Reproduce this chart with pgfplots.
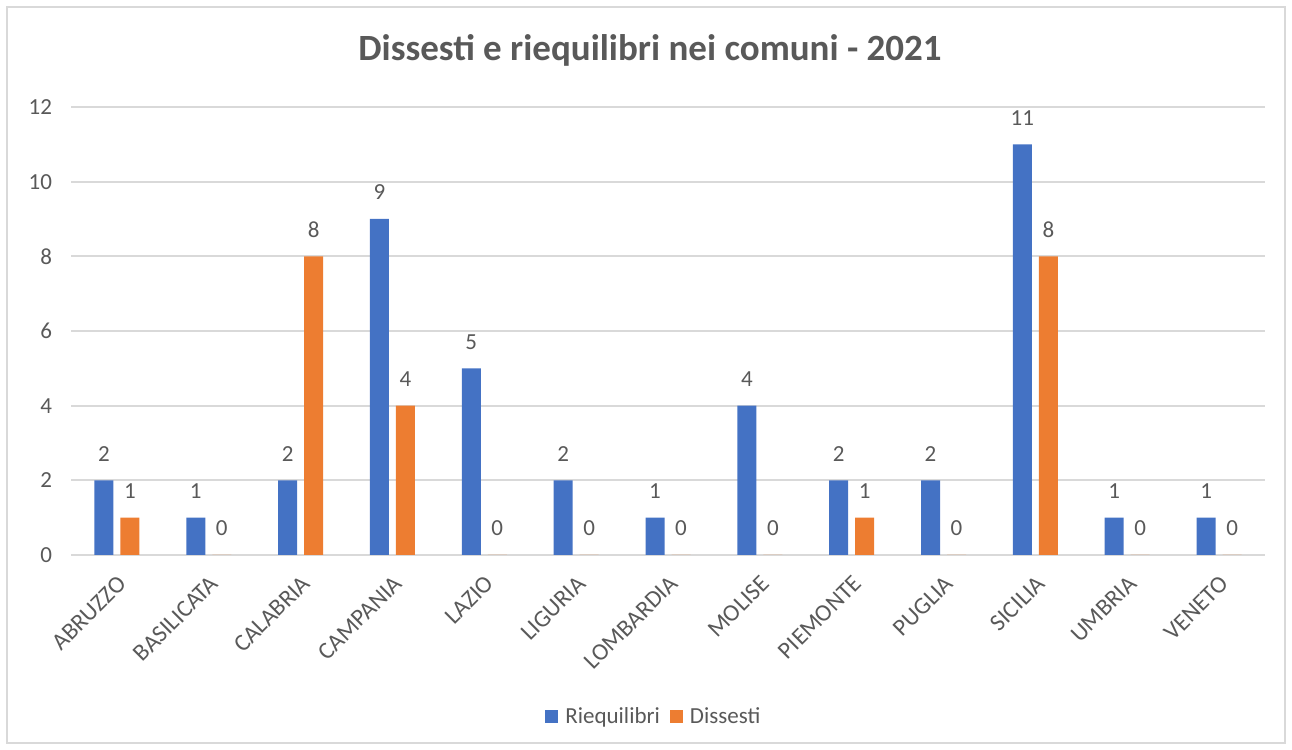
\documentclass[border=0pt]{standalone}
\usepackage{fontspec}
\setmainfont{Carlito}
\usepackage{pgfplots}
\pgfplotsset{compat=1.18}
\definecolor{riequ}{HTML}{4472C4}
\definecolor{diss}{HTML}{ED7D31}
\definecolor{txt}{HTML}{595959}
\definecolor{grd}{HTML}{D9D9D9}

\begin{document}
\begin{tikzpicture}
\useasboundingbox (0pt,0pt) rectangle (646pt,375pt);
\draw[grd, line width=1pt] (3.5pt,3.5pt) rectangle (642.5pt,371.5pt);
\node[txt, font=\fontsize{18.5}{22}\selectfont\bfseries] at (325pt,350pt) {Dissesti e riequilibri nei comuni - 2021};
\begin{axis}[
  at={(35.5pt,97.5pt)}, anchor=south west,
  scale only axis, width=597pt, height=224pt,
  xmin=-0.5, xmax=12.5, ymin=0, ymax=12,
  ytick={0,2,...,12}, xtick={0,...,12},
  xticklabels={ABRUZZO,BASILICATA,CALABRIA,CAMPANIA,LAZIO,LIGURIA,LOMBARDIA,MOLISE,PIEMONTE,PUGLIA,SICILIA,UMBRIA,VENETO},
  axis line style={draw=none}, tick style={draw=none}, major tick length=0pt,
  ymajorgrids, grid style={grd, line width=1pt},
  /pgf/number format/assume math mode=true,
  yticklabel style={txt, font=\fontsize{11.5}{13}\selectfont, xshift=-6pt},
  xticklabel style={txt, font=\fontsize{12}{14}\selectfont, xshift=5.2pt, yshift=-10pt, rotate=45, anchor=east},
  nodes near coords style={txt, font=\fontsize{11.5}{13}\selectfont, yshift=6pt},
  legend style={at={(0.489,-0.3616)}, anchor=center, draw=none, fill=none,
    legend columns=2, font=\fontsize{11.5}{13}\selectfont, text=txt,
    /tikz/every even column/.append style={column sep=3pt}},
  clip=false,
]
\addplot[ybar, bar width=9.5pt, bar shift=-6.5pt, fill=riequ, draw=none,
  nodes near coords, every node near coord/.append style={xshift=-6.5pt},
  legend image code/.code={\fill[riequ] (0pt,-3.25pt) rectangle (6.5pt,3.25pt); \path (0pt,0pt) (8pt,0pt);}]
  coordinates {(0,2) (1,1) (2,2) (3,9) (4,5) (5,2) (6,1) (7,4) (8,2) (9,2) (10,11) (11,1) (12,1)};
\addlegendentry{Riequilibri}
\addplot[ybar, bar width=9.5pt, bar shift=6.5pt, fill=diss, draw=none,
  nodes near coords, every node near coord/.append style={xshift=6.5pt},
  legend image code/.code={\fill[diss] (0pt,-3.25pt) rectangle (6.5pt,3.25pt); \path (0pt,0pt) (8pt,0pt);}]
  coordinates {(0,1) (1,0) (2,8) (3,4) (4,0) (5,0) (6,0) (7,0) (8,1) (9,0) (10,8) (11,0) (12,0)};
\addlegendentry{Dissesti}
\end{axis}
\end{tikzpicture}
\end{document}
